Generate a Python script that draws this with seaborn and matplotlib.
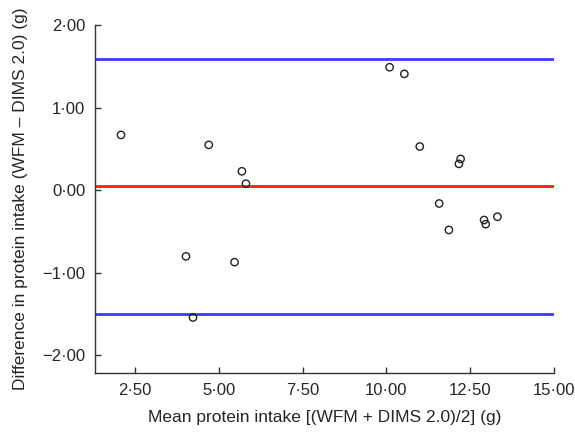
import numpy as np
import pandas as pd
import seaborn as sns
import matplotlib.pyplot as plt
from matplotlib.ticker import FuncFormatter

# Bland-Altman data
mean_intake = [2.08, 4.70, 5.69, 5.81, 10.10, 10.54, 11.00, 12.22, 12.17,
               11.58, 11.87, 12.92, 12.97, 13.32, 4.02, 5.47, 4.23]
diff_intake = [0.67, 0.55, 0.23, 0.08, 1.49, 1.41, 0.53, 0.38, 0.32,
               -0.16, -0.48, -0.36, -0.41, -0.32, -0.80, -0.87, -1.54]
bias = 0.05
upper_loa = 1.59
lower_loa = -1.50

x_ticks = [2.5, 5.0, 7.5, 10.0, 12.5, 15.0]
y_ticks = [-2.0, -1.0, 0.0, 1.0, 2.0]

df = pd.DataFrame({'mean': mean_intake, 'diff': diff_intake})

sns.set_style('ticks')
plt.rcParams['font.family'] = ['Liberation Sans', 'DejaVu Sans']

fig = plt.figure(figsize=(5.75, 4.33), dpi=100)
ax = fig.add_axes([0.165, 0.139, 0.798, 0.803])

# limits of agreement + mean difference
ax.axhline(upper_loa, color='#3a3aff', lw=2, zorder=1)
ax.axhline(bias, color='#ff1a1a', lw=2, zorder=1)
ax.axhline(lower_loa, color='#3a3aff', lw=2, zorder=1)

sns.scatterplot(data=df, x='mean', y='diff', ax=ax, marker='o', s=28,
                facecolors='none', edgecolor='#222222', linewidth=1.0, zorder=3)

ax.set_xlim(1.3, 15.0)
ax.set_ylim(-2.21, 2.0)
ax.set_xticks(x_ticks)
ax.set_yticks(y_ticks)

fmt = FuncFormatter(lambda v, pos: f'{v:.2f}'.replace('.', '\u00b7').replace('-', '\u2212'))
ax.xaxis.set_major_formatter(fmt)
ax.yaxis.set_major_formatter(fmt)
ax.tick_params(direction='in', labelsize=12, length=4.5, width=1, color='#333333')
ax.tick_params(axis='x', pad=7)
ax.tick_params(axis='y', pad=7)

sns.despine(ax=ax)
for s in ['left', 'bottom']:
    ax.spines[s].set_color('#333333')
    ax.spines[s].set_linewidth(1)

ax.set_xlabel('Mean protein intake [(WFM + DIMS 2.0)/2] (g)', fontsize=12.5, labelpad=9)
ax.set_ylabel('Difference in protein intake (WFM \u2013 DIMS 2.0) (g)', fontsize=12.5, labelpad=10)

plt.savefig('out.png', dpi=100)
